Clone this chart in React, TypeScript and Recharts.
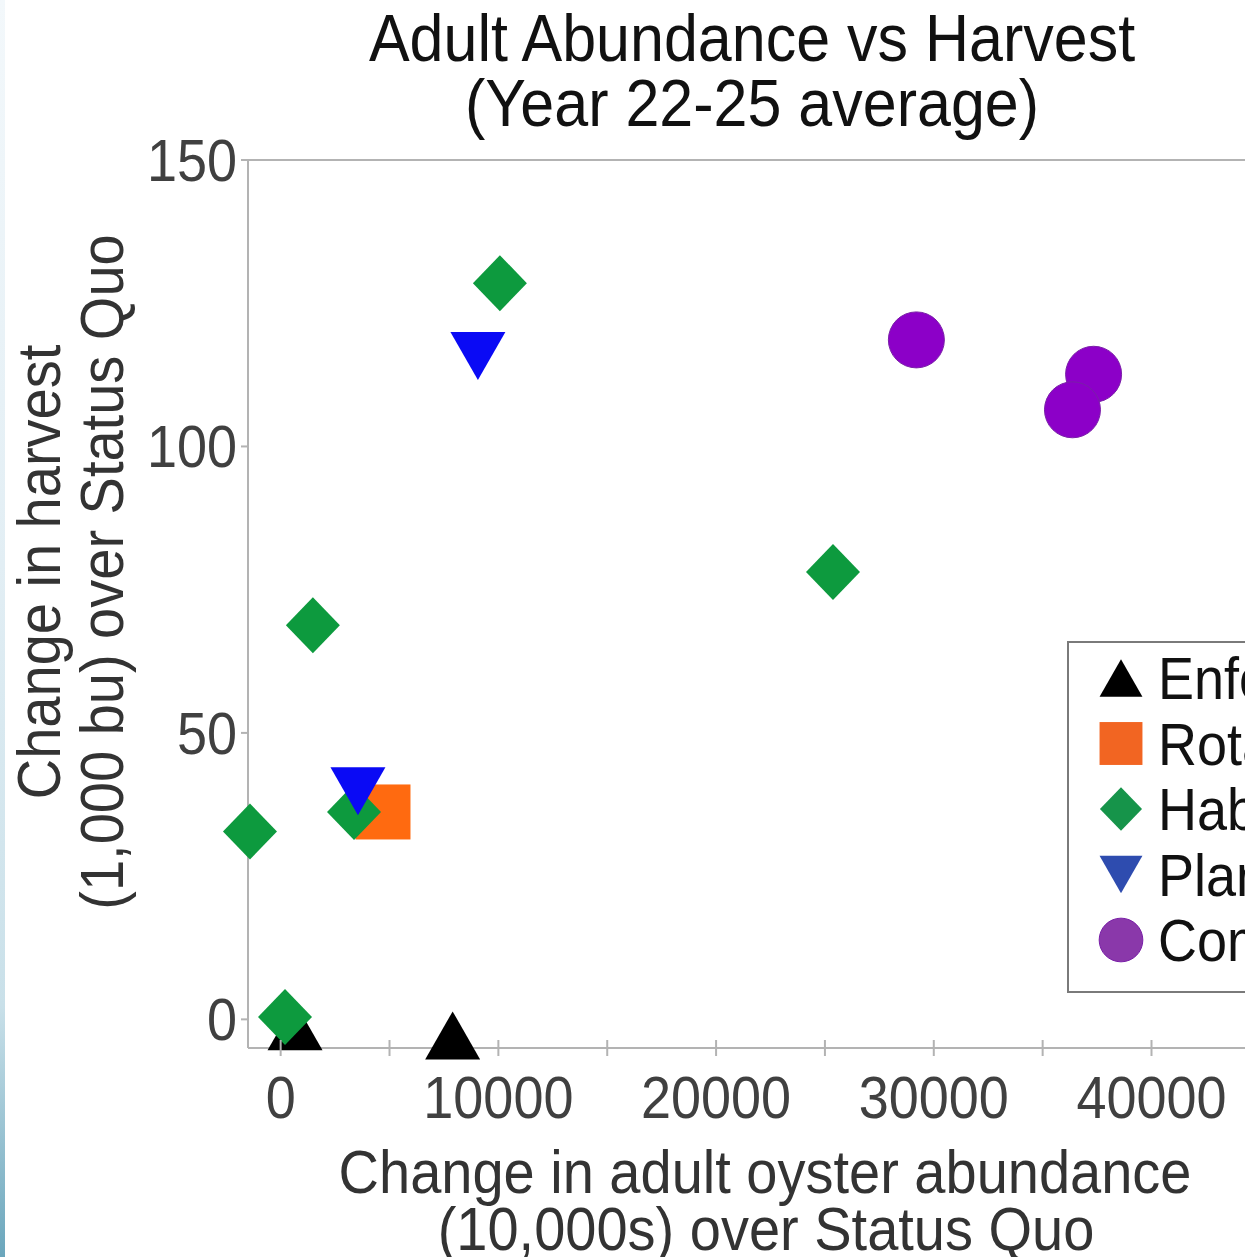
import React from 'react'
import { ScatterChart, Scatter, XAxis, YAxis, ReferenceLine } from 'recharts'

// series values (x: 10,000s, y: 1,000 bu)
const seriesNames = ['Enforcement', 'Rotational harvest', 'Habitat restoration', 'Planting', 'Combination']

const enforcementX = [660, 7900]
const enforcementY = [-1.2, -2.8]
const rotationX = [4700]
const rotationY = [36.2]
const habitatX = [10070, 1480, 25370, -1410, 3370, 200]
const habitatY = [128.5, 68.8, 78.1, 32.8, 36.2, 0.4]
const plantingX = [9060, 3550]
const plantingY = [115.8, 39.8]
const combinationX = [29200, 37340, 36370]
const combinationY = [118.6, 112.6, 106.4]

const xTicks = [0, 5000, 10000, 15000, 20000, 25000, 30000, 35000, 40000]
const yTicks = [0, 50, 100, 150]

const FONT = '"Liberation Sans", Arial, sans-serif'
const STRETCH = 1.09
const AXIS_GRAY = '#b3b3b3'

const toPoints = (xs: number[], ys: number[]) => xs.map((x, i) => ({ x, y: ys[i] }))

type ShapeProps = { cx?: number; cy?: number; color: string; s?: number }

const TriUp = ({ cx = 0, cy = 0, color, s = 1 }: ShapeProps) => (
  <polygon points={`${cx},${cy - 24 * s} ${cx + 27.5 * s},${cy + 24 * s} ${cx - 27.5 * s},${cy + 24 * s}`} fill={color} />
)
const TriDown = ({ cx = 0, cy = 0, color, s = 1 }: ShapeProps) => (
  <polygon points={`${cx - 27.5 * s},${cy - 24 * s} ${cx + 27.5 * s},${cy - 24 * s} ${cx},${cy + 24 * s}`} fill={color} />
)
const Square = ({ cx = 0, cy = 0, color, s = 1 }: ShapeProps) => (
  <rect x={cx - 27.5 * s} y={cy - 27.5 * s} width={55 * s} height={55 * s} fill={color} />
)
const Diamond = ({ cx = 0, cy = 0, color, s = 1 }: ShapeProps) => (
  <polygon points={`${cx},${cy - 28 * s} ${cx + 27 * s},${cy} ${cx},${cy + 28 * s} ${cx - 27 * s},${cy}`} fill={color} />
)
const Circle = ({ cx = 0, cy = 0, color, s = 1 }: ShapeProps) => (
  <circle cx={cx} cy={cy} r={28 * s} fill={color} stroke="#7a1fa8" strokeWidth={1} />
)

const series = [
  { name: seriesNames[0], data: toPoints(enforcementX, enforcementY), color: '#000000', legendColor: '#000000', Shape: TriUp },
  { name: seriesNames[1], data: toPoints(rotationX, rotationY), color: '#ff6a10', legendColor: '#f26522', Shape: Square },
  { name: seriesNames[2], data: toPoints(habitatX, habitatY), color: '#0d9a3e', legendColor: '#16944a', Shape: Diamond },
  { name: seriesNames[3], data: toPoints(plantingX, plantingY), color: '#0a0af5', legendColor: '#2e4caf', Shape: TriDown },
  { name: seriesNames[4], data: toPoints(combinationX, combinationY), color: '#8c00c8', legendColor: '#8a38aa', Shape: Circle },
]

const stretched = (x: number, y: number, rotate = 0) =>
  `translate(${x} ${y})${rotate ? ` rotate(${rotate})` : ''} scale(1 ${STRETCH})`

const XTick = (props: any) => {
  const { x, y, payload } = props
  const v = payload.value as number
  return (
    <g>
      <line x1={x} x2={x} y1={y - 20} y2={y - 4} stroke={AXIS_GRAY} strokeWidth={2} />
      {v % 10000 === 0 && (
        <text transform={stretched(x, y + 58)} textAnchor="middle" fontSize={54} fontFamily={FONT} fill="#404040">
          {v}
        </text>
      )}
    </g>
  )
}

const YTick = (props: any) => {
  const { x, y, payload } = props
  return (
    <text transform={stretched(x, y + 21)} textAnchor="end" fontSize={54} fontFamily={FONT} fill="#404040">
      {payload.value}
    </text>
  )
}

export default function App() {
  return (
    <div style={{ position: 'absolute', left: 0, top: 0, width: 1245, height: 1257, overflow: 'hidden', background: '#fff' }}>
      <div style={{ position: 'absolute', left: 0, top: 0, width: 5, height: 1257,
        background: 'linear-gradient(to bottom, #f3f8fb 0%, #e2eef4 45%, #c9e0e9 80%, #6aa6bc 100%)' }} />
      <div style={{ position: 'absolute', left: 0, top: 0 }}>
        <ScatterChart width={1300} height={1257} margin={{ top: 160, right: 44, bottom: 0, left: 0 }}>
          <XAxis type="number" dataKey="x" domain={[-1500, 44800]} ticks={xTicks}
            height={209} axisLine={{ stroke: AXIS_GRAY, strokeWidth: 2 }} tickLine={false}
            tickSize={6} tickMargin={6} tick={<XTick />} interval={0} />
          <YAxis type="number" dataKey="y" domain={[-5, 150]} ticks={yTicks}
            width={248} axisLine={{ stroke: AXIS_GRAY, strokeWidth: 2 }}
            tickLine={{ stroke: AXIS_GRAY, strokeWidth: 2 }} tickSize={7} tickMargin={4} tick={<YTick />} interval={0} />
          <ReferenceLine y={150} stroke={AXIS_GRAY} strokeWidth={2} />
          {series.map(s => (
            <Scatter key={s.name} name={s.name} data={s.data} fill={s.color} isAnimationActive={false}
              shape={(p: any) => <s.Shape cx={p.cx} cy={p.cy} color={s.color} />} />
          ))}
        </ScatterChart>
      </div>
      <svg width={1245} height={1257} style={{ position: 'absolute', left: 0, top: 0, pointerEvents: 'none' }}>
        <g fontFamily={FONT} textAnchor="middle" fill="#111">
          <text transform={stretched(752, 61)} fontSize={61}>Adult Abundance vs Harvest</text>
          <text transform={stretched(752, 126)} fontSize={61}>(Year 22-25 average)</text>
        </g>
        <g fontFamily={FONT} textAnchor="middle" fill="#333" fontSize={56}>
          <text transform={stretched(765, 1193)}>Change in adult oyster abundance</text>
          <text transform={stretched(766, 1250)}>(10,000s) over Status Quo</text>
          <text transform={stretched(60, 572, -90)}>Change in harvest</text>
          <text transform={stretched(123, 572, -90)}>(1,000 bu) over Status Quo</text>
        </g>
        <rect x={1068} y={642} width={300} height={350} fill="#fff" stroke="#7a7a7a" strokeWidth={2} />
        {series.map((s, i) => {
          const cy = 678 + i * 65.5
          return (
            <g key={s.name}>
              <s.Shape cx={1121} cy={cy} color={s.legendColor} s={0.78} />
              <text transform={stretched(1158, cy + 21)} fontSize={54} fontFamily={FONT} fill="#111">{s.name}</text>
            </g>
          )
        })}
      </svg>
    </div>
  )
}
